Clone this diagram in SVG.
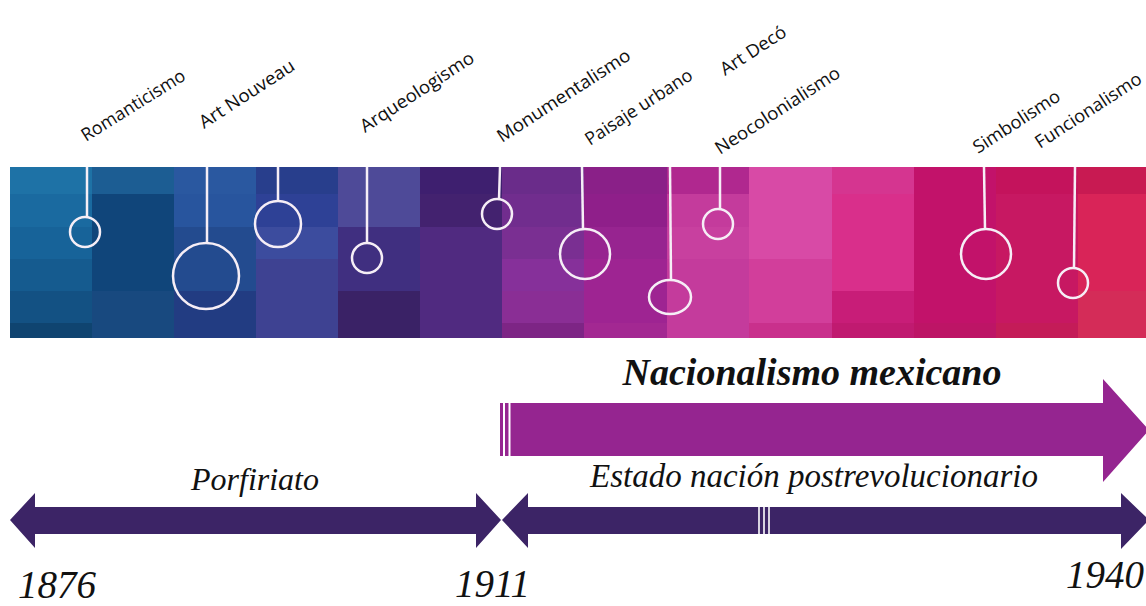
<svg xmlns="http://www.w3.org/2000/svg" width="1146" height="606" viewBox="0 0 1146 606">
<style>
.lbl{font-family:"Open Sans","Noto Sans",sans-serif;font-size:18px;fill:#111}
.mk line{stroke:#f6eef6;stroke-width:2.5}
.mk circle,.mk ellipse{fill:none;stroke:#f6eef6;stroke-width:2.5}
.ttl{font-family:"Liberation Serif","Times New Roman",serif;font-style:italic;fill:#111}
.yr{font-family:"Liberation Serif","Times New Roman",serif;font-style:italic;font-size:39px;fill:#111}
.stripe{stroke:#ffffff}
</style>
<rect width="1146" height="606" fill="#ffffff"/>
<g id="band">
<rect x="10" y="167" width="82" height="27" fill="#1e72a6"/>
<rect x="10" y="194" width="82" height="33" fill="#1a6aa0"/>
<rect x="10" y="227" width="82" height="32" fill="#176399"/>
<rect x="10" y="259" width="82" height="32" fill="#155b8f"/>
<rect x="10" y="291" width="82" height="32" fill="#135183"/>
<rect x="10" y="323" width="82" height="15" fill="#0f4470"/>
<rect x="92" y="167" width="82" height="27" fill="#1c5d93"/>
<rect x="92" y="194" width="82" height="97" fill="#10457a"/>
<rect x="92" y="291" width="82" height="47" fill="#18497f"/>
<rect x="174" y="167" width="82" height="27" fill="#2a58a0"/>
<rect x="174" y="194" width="82" height="33" fill="#28559e"/>
<rect x="174" y="227" width="82" height="64" fill="#234b8f"/>
<rect x="174" y="291" width="82" height="47" fill="#223c82"/>
<rect x="256" y="167" width="82" height="27" fill="#283e8c"/>
<rect x="256" y="194" width="82" height="33" fill="#2e4196"/>
<rect x="256" y="227" width="82" height="32" fill="#3c4c9e"/>
<rect x="256" y="259" width="82" height="79" fill="#3e4292"/>
<rect x="338" y="167" width="82" height="60" fill="#4e4a98"/>
<rect x="338" y="227" width="82" height="64" fill="#402f80"/>
<rect x="338" y="291" width="82" height="47" fill="#3a2266"/>
<rect x="420" y="167" width="82" height="27" fill="#3e1f6f"/>
<rect x="420" y="194" width="82" height="33" fill="#43226f"/>
<rect x="420" y="227" width="82" height="111" fill="#502a80"/>
<rect x="502" y="167" width="82" height="27" fill="#6a2c8a"/>
<rect x="502" y="194" width="82" height="33" fill="#712d8e"/>
<rect x="502" y="227" width="82" height="32" fill="#7a2f92"/>
<rect x="502" y="259" width="82" height="32" fill="#86309a"/>
<rect x="502" y="291" width="82" height="32" fill="#8a2e95"/>
<rect x="502" y="323" width="82" height="15" fill="#7d2585"/>
<rect x="584" y="167" width="83" height="27" fill="#8a2088"/>
<rect x="584" y="194" width="83" height="33" fill="#8f1f8a"/>
<rect x="584" y="227" width="83" height="32" fill="#972490"/>
<rect x="584" y="259" width="83" height="64" fill="#9e2492"/>
<rect x="584" y="323" width="83" height="15" fill="#a32892"/>
<rect x="667" y="167" width="82" height="27" fill="#b0288f"/>
<rect x="667" y="194" width="82" height="144" fill="#c43b9c"/>
<rect x="667" y="227" width="82" height="32" fill="#c8409f"/>
<rect x="749" y="167" width="83" height="92" fill="#d84aa6"/>
<rect x="749" y="259" width="83" height="64" fill="#d23e9b"/>
<rect x="749" y="323" width="83" height="15" fill="#c9308c"/>
<rect x="832" y="167" width="82" height="27" fill="#d53590"/>
<rect x="832" y="194" width="82" height="97" fill="#d92f8b"/>
<rect x="832" y="291" width="82" height="32" fill="#c81d78"/>
<rect x="832" y="323" width="82" height="15" fill="#c01a70"/>
<rect x="914" y="167" width="82" height="171" fill="#c2126a"/>
<rect x="914" y="323" width="82" height="15" fill="#bd1566"/>
<rect x="996" y="167" width="82" height="27" fill="#c4135c"/>
<rect x="996" y="194" width="82" height="129" fill="#c71862"/>
<rect x="996" y="323" width="82" height="15" fill="#c41c58"/>
<rect x="1078" y="167" width="68" height="27" fill="#c81a52"/>
<rect x="1078" y="194" width="68" height="97" fill="#d92458"/>
<rect x="1078" y="291" width="68" height="47" fill="#d42c58"/>
</g>
<g id="markers" class="mk">
<g id="m1"><line x1="87" y1="167" x2="87" y2="217"/><circle cx="85" cy="232" r="15"/></g>
<g id="m2"><line x1="207" y1="167" x2="207" y2="243"/><circle cx="206" cy="276" r="33"/></g>
<g id="m3"><line x1="278" y1="167" x2="278" y2="201"/><circle cx="278" cy="224" r="23"/></g>
<g id="m4"><line x1="367" y1="167" x2="367" y2="243"/><circle cx="367" cy="258" r="15"/></g>
<g id="m5"><line x1="500" y1="167" x2="499" y2="199"/><circle cx="497" cy="214" r="15"/></g>
<g id="m6"><line x1="582" y1="167" x2="583" y2="229"/><circle cx="585" cy="254" r="25"/></g>
<g id="m7"><line x1="670" y1="167" x2="671" y2="280"/><ellipse cx="670" cy="297" rx="21" ry="17"/></g>
<g id="m8"><line x1="720" y1="167" x2="720" y2="209"/><circle cx="718" cy="224" r="15"/></g>
<g id="m9"><line x1="984" y1="167" x2="985" y2="229"/><circle cx="986" cy="254" r="25"/></g>
<g id="m10"><line x1="1075" y1="167" x2="1074" y2="268"/><circle cx="1073" cy="283" r="15"/></g>
</g>
<g id="labels">
<g id="l-romanticismo"><text class="lbl" transform="translate(86,142) rotate(-32)" textLength="119" lengthAdjust="spacingAndGlyphs">Romanticismo</text></g>
<g id="l-artnouveau"><text class="lbl" transform="translate(204,129) rotate(-33)" textLength="110" lengthAdjust="spacingAndGlyphs">Art Nouveau</text></g>
<g id="l-arqueologismo"><text class="lbl" transform="translate(365,133) rotate(-33)" textLength="132" lengthAdjust="spacingAndGlyphs">Arqueologismo</text></g>
<g id="l-monumentalismo"><text class="lbl" transform="translate(502,143) rotate(-33)" textLength="155" lengthAdjust="spacingAndGlyphs">Monumentalismo</text></g>
<g id="l-paisaje"><text class="lbl" transform="translate(590,146) rotate(-33)" textLength="124" lengthAdjust="spacingAndGlyphs">Paisaje urbano</text></g>
<g id="l-artdeco"><text class="lbl" transform="translate(725,76) rotate(-33)" textLength="75" lengthAdjust="spacingAndGlyphs">Art Decó</text></g>
<g id="l-neocolonialismo"><text class="lbl" transform="translate(720,155) rotate(-33)" textLength="145" lengthAdjust="spacingAndGlyphs">Neocolonialismo</text></g>
<g id="l-simbolismo"><text class="lbl" transform="translate(978,154) rotate(-33)" textLength="100" lengthAdjust="spacingAndGlyphs">Simbolismo</text></g>
<g id="l-funcionalismo"><text class="lbl" transform="translate(1040,149) rotate(-33)" textLength="123" lengthAdjust="spacingAndGlyphs">Funcionalismo</text></g>
</g>
<g id="connectors">
<g id="arrow-nacionalismo">
<path d="M500,403 H1103 V379 L1149,430 L1103,482 V456 H500 Z" fill="#952590"/>
<line class="stripe" x1="504" y1="403" x2="504" y2="456" stroke-width="2"/>
<line class="stripe" x1="509.5" y1="403" x2="509.5" y2="456" stroke-width="2"/>
</g>
<g id="arrow-porfiriato">
<path d="M10,520 L35,493 V507 H476 V493 L501,520 L476,548 V534 H35 V548 Z" fill="#3c2466"/>
</g>
<g id="arrow-estado">
<path d="M502,520 L528,493 V507 H1121 V493 L1149,520 L1121,549 V534 H528 V548 Z" fill="#3c2466"/>
<line class="stripe" x1="759" y1="507" x2="759" y2="534" stroke-width="1.6"/>
<line class="stripe" x1="764" y1="507" x2="764" y2="534" stroke-width="1.6"/>
<line class="stripe" x1="769" y1="507" x2="769" y2="534" stroke-width="1.6"/>
</g>
</g>
<g id="t-nacionalismo"><text class="ttl" x="812" y="385" text-anchor="middle" font-size="38" font-weight="bold">Nacionalismo mexicano</text></g>
<g id="t-estado"><text class="ttl" x="814" y="487" text-anchor="middle" font-size="33">Estado nación postrevolucionario</text></g>
<g id="t-porfiriato"><text class="ttl" x="255" y="490" text-anchor="middle" font-size="32">Porfiriato</text></g>
<g id="years">
<text class="yr" x="18" y="598">1876</text>
<text class="yr" x="455" y="597">1911</text>
<text class="yr" x="1144" y="588" text-anchor="end">1940</text>
</g>
</svg>
